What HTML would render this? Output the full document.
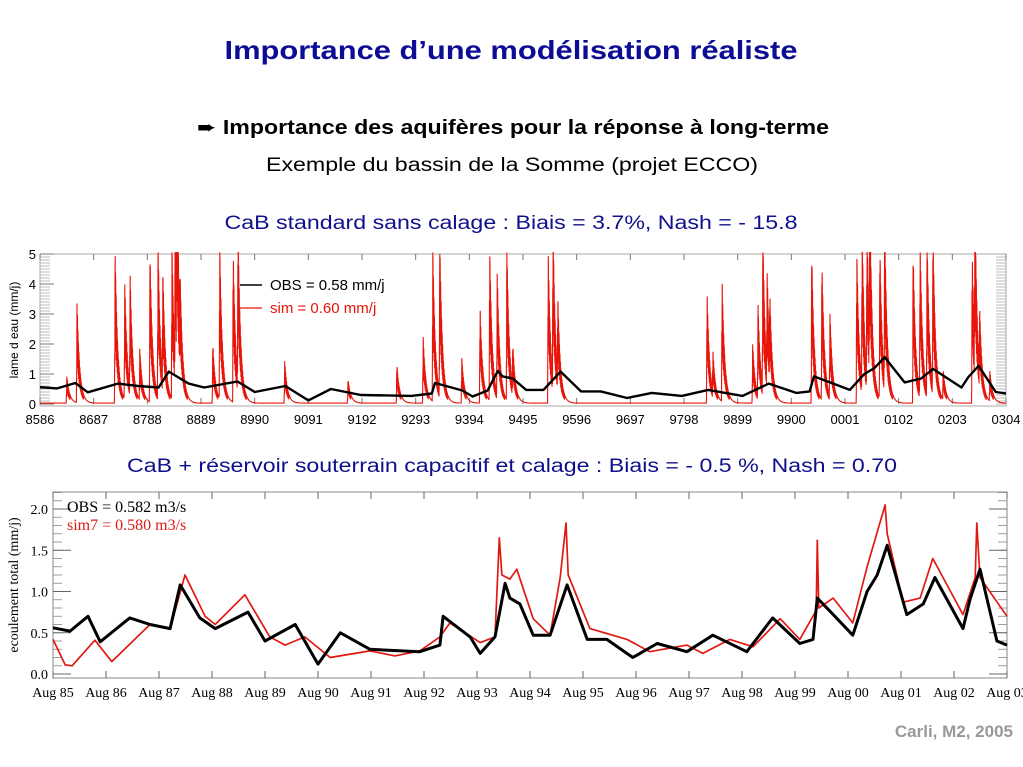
<!DOCTYPE html>
<html><head><meta charset="utf-8"><style>
body{margin:0;background:#fff;width:1023px;height:767px;overflow:hidden}
svg{display:block}
</style></head><body>
<svg id="s" width="1023" height="767" xmlns="http://www.w3.org/2000/svg">
<text x="511" y="59" text-anchor="middle" font-family="Liberation Sans, sans-serif" font-weight="bold" font-size="26" fill="#0c0c94" textLength="573" lengthAdjust="spacingAndGlyphs">Importance d’une modélisation réaliste</text>
<text x="513" y="134" text-anchor="middle" font-family="Liberation Sans, DejaVu Sans, sans-serif" font-weight="bold" font-size="20" fill="#000" textLength="632" lengthAdjust="spacingAndGlyphs">➨ Importance des aquifères pour la réponse à long-terme</text>
<text x="512" y="171" text-anchor="middle" font-family="Liberation Sans, sans-serif" font-size="19" fill="#000" textLength="492" lengthAdjust="spacingAndGlyphs">Exemple du bassin de la Somme (projet ECCO)</text>
<text x="511" y="229" text-anchor="middle" font-family="Liberation Sans, sans-serif" font-size="19" fill="#10108c" textLength="573" lengthAdjust="spacingAndGlyphs">CaB standard sans calage : Biais = 3.7%, Nash = - 15.8</text>
<text x="512" y="472" text-anchor="middle" font-family="Liberation Sans, sans-serif" font-size="19" fill="#10108c" textLength="770" lengthAdjust="spacingAndGlyphs">CaB + réservoir souterrain capacitif et calage : Biais = - 0.5 %, Nash = 0.70</text>
<text x="1013" y="737" text-anchor="end" font-family="Liberation Sans, sans-serif" font-weight="bold" font-size="17" fill="#999">Carli, M2, 2005</text>
<g id="top"></g>
<g id="bot"></g>
</svg>
<script>
// ---------- data ----------
// time in years since Aug 1985
const obsT=[0,0.32,0.66,0.89,1.45,1.83,2.21,2.40,2.77,3.06,3.68,4.0,4.57,5.0,5.42,5.98,6.92,7.30,7.36,7.87,8.06,8.34,8.53,8.62,8.81,9.06,9.38,9.70,10.08,10.45,10.94,11.40,11.96,12.45,13.09,13.58,14.09,14.34,14.42,14.72,15.09,15.36,15.55,15.74,16.11,16.42,16.64,17.17,17.30,17.49,17.81,18];
const obsV=[0.56,0.52,0.70,0.39,0.68,0.6,0.55,1.08,0.68,0.55,0.75,0.4,0.6,0.12,0.5,0.3,0.27,0.35,0.7,0.45,0.25,0.45,1.1,0.92,0.85,0.47,0.47,1.08,0.42,0.42,0.2,0.37,0.27,0.47,0.27,0.68,0.37,0.42,0.92,0.72,0.47,1.0,1.2,1.56,0.72,0.85,1.17,0.55,0.9,1.27,0.4,0.35];
const simT=[0,0.23,0.36,0.79,1.11,1.83,2.21,2.49,2.87,3.06,3.62,4.09,4.38,4.75,5.23,5.98,6.45,6.92,7.30,7.49,8.06,8.34,8.42,8.47,8.62,8.75,9.06,9.38,9.57,9.68,9.72,10.13,10.83,11.26,11.96,12.26,12.77,13.21,13.72,14.09,14.40,14.42,14.45,14.72,15.09,15.36,15.66,15.70,15.74,16.04,16.36,16.60,17.17,17.40,17.43,17.49,18];
const simV=[0.42,0.11,0.1,0.41,0.15,0.6,0.55,1.2,0.7,0.6,0.96,0.45,0.35,0.45,0.2,0.28,0.22,0.28,0.45,0.62,0.38,0.45,1.65,1.2,1.15,1.27,0.67,0.47,1.17,1.83,1.2,0.55,0.42,0.27,0.35,0.25,0.42,0.33,0.67,0.42,0.77,1.62,0.8,0.92,0.62,1.3,1.96,2.05,1.7,0.87,0.92,1.4,0.72,1.17,1.83,1.17,0.7];
// top chart: simulated runoff peaks
const spikeT=[0.5,0.69,1.40,1.58,1.68,1.86,2.05,2.20,2.29,2.46,2.52,2.55,2.61,3.22,3.35,3.60,3.69,4.56,5.74,6.65,7.14,7.32,7.45,7.86,8.20,8.38,8.52,8.70,8.81,9.47,9.56,9.65,12.43,12.54,12.71,13.28,13.38,13.47,13.55,13.60,14.38,14.57,14.72,15.22,15.32,15.41,15.46,15.65,15.74,16.27,16.40,16.53,16.64,16.83,17.37,17.42,17.51,17.70];
const spikeH=[0.9,3.3,5,3.9,3.7,1.7,5,5,3.5,5,5,5,1.8,2,5,5,5,1.4,0.8,1.3,2.2,5,5,1.5,3.2,5,4,5,1.4,5,5,2.5,3.7,1.3,4,2,3,5,3.3,2,5,4.6,2.8,5,5,5,5,5,5,5,5,5,5,1,5,5,2,1];
const topXLabels=["8586","8687","8788","8889","8990","9091","9192","9293","9394","9495","9596","9697","9798","9899","9900","0001","0102","0203","0304"];
const topYTicks=[0,1,2,3,4,5];
const botXLabels=["Aug 85","Aug 86","Aug 87","Aug 88","Aug 89","Aug 90","Aug 91","Aug 92","Aug 93","Aug 94","Aug 95","Aug 96","Aug 97","Aug 98","Aug 99","Aug 00","Aug 01","Aug 02","Aug 03"];
const botYTicks=[0.0,0.5,1.0,1.5,2.0];

const NS="http://www.w3.org/2000/svg";
function mk(parent,tag,attrs){const e=document.createElementNS(NS,tag);for(const k in attrs)e.setAttribute(k,attrs[k]);parent.appendChild(e);return e;}

// ---------- top chart ----------
(function(){
const g=document.getElementById('top');
const L=40,R=1006,T=254,B=404,span=18;
const x=t=>L+(R-L)*t/span, y=v=>B-(B-T)*v/5;
let e=mk(g,'rect',{x:L,y:T,width:R-L,height:B-T+2,fill:'none',stroke:'#aaa','stroke-width':1});

for(let v=0;v<=5.001;v+=0.1){mk(g,'line',{x1:L,x2:L+10,y1:y(v),y2:y(v),stroke:'#aaa','stroke-width':0.8});mk(g,'line',{x1:R-10,x2:R,y1:y(v),y2:y(v),stroke:'#aaa','stroke-width':0.8});}
topYTicks.forEach(v=>{mk(g,'line',{x1:L,x2:L+14,y1:y(v),y2:y(v),stroke:'#777'});
 const t=mk(g,'text',{x:L-4,y:y(v)+5,'text-anchor':'end','font-family':'Liberation Sans, sans-serif','font-size':13,fill:'#000'});t.textContent=v;
 });
topXLabels.forEach((s,i)=>{const xx=L+(R-L)*i/(topXLabels.length-1);
 mk(g,'line',{x1:xx,x2:xx,y1:B,y2:B-6,stroke:'#777'});mk(g,'line',{x1:xx,x2:xx,y1:T,y2:T+6,stroke:'#777'});
 const t=mk(g,'text',{x:xx,y:424,'text-anchor':'middle','font-family':'Liberation Sans, sans-serif','font-size':13,fill:'#000'});t.textContent=s;
 });
let yl=mk(g,'text',{x:0,y:0,transform:'translate(18,330) rotate(-90)','text-anchor':'middle','font-family':'Liberation Sans, sans-serif','font-size':12,fill:'#000'});yl.textContent='lame d eau (mm/j)';

// sim series from spikes: summed decays, with oscillating sub-peaks
let pts=[];
for(let t=0;t<=span;t+=0.003){let v=0.03;
 for(let k=0;k<spikeT.length;k++){const d=t-spikeT[k];let s=0;
  if(d>=-0.012&&d<0)s=spikeH[k]*(1+d/0.012);else if(d>=0&&d<0.4)s=spikeH[k]*Math.exp(-d/0.05);
  v+=s;}
 const idx=Math.round(t/0.003);
 if(v>0.3&&idx%3===0)v*=0.45;
 v=Math.min(v,5.05);pts.push(x(t).toFixed(1)+','+y(v).toFixed(1));}
let p=mk(g,'polyline',{points:pts.join(' '),fill:'none',stroke:'#e8140a','stroke-width':1.1});

pts=[];for(let i=0;i<obsT.length;i++)pts.push(x(obsT[i]).toFixed(1)+','+y(obsV[i]).toFixed(1));
p=mk(g,'polyline',{points:pts.join(' '),fill:'none',stroke:'#000','stroke-width':2.4,'stroke-linejoin':'round'});

mk(g,'line',{x1:240,x2:262,y1:285,y2:285,stroke:'#000','stroke-width':1.5});
let lt=mk(g,'text',{x:270,y:290,'font-family':'Liberation Sans, sans-serif','font-size':15,fill:'#000'});lt.textContent='OBS = 0.58 mm/j';

mk(g,'line',{x1:240,x2:262,y1:308,y2:308,stroke:'#e8140a','stroke-width':1.2});
lt=mk(g,'text',{x:270,y:313,'font-family':'Liberation Sans, sans-serif','font-size':15,fill:'#e8140a'});lt.textContent='sim = 0.60 mm/j';

})();

// ---------- bottom chart ----------
(function(){
const g=document.getElementById('bot');
const L=53,R=1007,T=492,B=678,Y0=674,span=18,k=82.5;
const x=t=>L+(R-L)*t/span, y=v=>Y0-k*v;
let e=mk(g,'rect',{x:L,y:T,width:R-L,height:B-T,fill:'none',stroke:'#888','stroke-width':1});

for(let v=0;v<=2.201;v+=0.1){if(y(v)<T)continue;mk(g,'line',{x1:L,x2:L+9,y1:y(v),y2:y(v),stroke:'#888','stroke-width':0.8});mk(g,'line',{x1:R-9,x2:R,y1:y(v),y2:y(v),stroke:'#888','stroke-width':0.8});}
botYTicks.forEach(v=>{mk(g,'line',{x1:L,x2:L+18,y1:y(v),y2:y(v),stroke:'#666'});mk(g,'line',{x1:R-18,x2:R,y1:y(v),y2:y(v),stroke:'#666'});
 const t=mk(g,'text',{x:L-5,y:y(v)+5,'text-anchor':'end','font-family':'Liberation Serif, serif','font-size':14,fill:'#000'});t.textContent=v.toFixed(1);
 });
botXLabels.forEach((s,i)=>{const xx=L+(R-L)*i/(botXLabels.length-1);
 mk(g,'line',{x1:xx,x2:xx,y1:B,y2:B-7,stroke:'#666'});mk(g,'line',{x1:xx,x2:xx,y1:T,y2:T+7,stroke:'#666'});
 const t=mk(g,'text',{x:xx,y:697,'text-anchor':'middle','font-family':'Liberation Serif, serif','font-size':14,fill:'#000'});t.textContent=s;
 });
let yl=mk(g,'text',{x:0,y:0,transform:'translate(18,585) rotate(-90)','text-anchor':'middle','font-family':'Liberation Serif, serif','font-size':14,fill:'#000'});yl.textContent='ecoulement total (mm/j)';

let pts=[];for(let i=0;i<simT.length;i++)pts.push(x(simT[i]).toFixed(1)+','+y(simV[i]).toFixed(1));
let p=mk(g,'polyline',{points:pts.join(' '),fill:'none',stroke:'#e01a12','stroke-width':1.7,'stroke-linejoin':'round'});

pts=[];for(let i=0;i<obsT.length;i++)pts.push(x(obsT[i]).toFixed(1)+','+y(obsV[i]).toFixed(1));
p=mk(g,'polyline',{points:pts.join(' '),fill:'none',stroke:'#000','stroke-width':3,'stroke-linejoin':'round'});

let lt=mk(g,'text',{x:67,y:512,'font-family':'Liberation Serif, serif','font-size':16,fill:'#000'});lt.textContent='OBS = 0.582 m3/s';

lt=mk(g,'text',{x:67,y:530,'font-family':'Liberation Serif, serif','font-size':16,fill:'#e01a12'});lt.textContent='sim7 = 0.580 m3/s';

})();
</script>
</body></html>
